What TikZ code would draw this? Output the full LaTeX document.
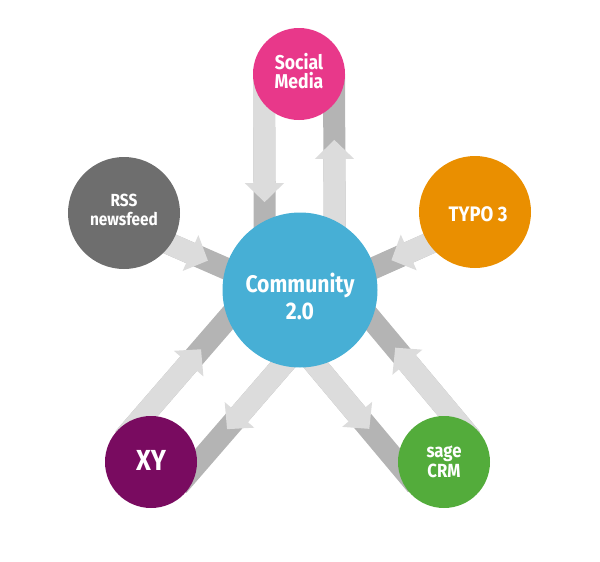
\documentclass[tikz,border=0pt]{standalone}
\usepackage{fontspec}
\setmainfont{Fira Sans}[FakeStretch=0.88]
\usetikzlibrary{arrows.meta,calc,backgrounds}
\definecolor{cpink}{HTML}{E8388A}
\definecolor{cgray}{HTML}{6E6E6E}
\definecolor{corange}{HTML}{EA8F00}
\definecolor{cblue}{HTML}{47AFD5}
\definecolor{cpurple}{HTML}{790B60}
\definecolor{cgreen}{HTML}{53AC3B}
\definecolor{bandlight}{HTML}{DCDCDC}
\definecolor{banddark}{HTML}{B4B4B4}
\tikzset{
  hub/.style={circle, inner sep=0pt, draw=none},
  txt/.style={text=white, align=center, inner sep=0pt},
  darkband/.style={draw=banddark, line width=22pt},
  lightband/.style={draw=bandlight, line width=22pt, -{Triangle[width=38pt,length=19pt]}}
}
% #1 source, #2 target, #3 side angle, #4 offset, #5 arrow length
\newcommand{\flowband}[5]{%
  \coordinate (#1#2s) at ($(#1.center)!#4!#3:(#2.center)$);
  \coordinate (#1#2e) at ($(#2.center)!#4!-#3:(#1.center)$);
  \draw[darkband] (#1#2s) -- (#1#2e);
  \draw[lightband] (#1#2s) -- ($(#1#2s)!#5!(#1#2e)$);
}
\begin{document}
\begin{tikzpicture}[x=1pt,y=-1pt]
\useasboundingbox (0,0) rectangle (600,562);
% circles
\node[hub, fill=cblue,   minimum size=155pt] (com)  at (300,290) {};
\node[hub, fill=cpink,   minimum size=92pt]  (soc)  at (299,74)  {};
\node[hub, fill=cgray,   minimum size=112pt] (rss)  at (124,213) {};
\node[hub, fill=corange, minimum size=112pt] (typo) at (475,212) {};
\node[hub, fill=cpurple, minimum size=92pt]  (xy)   at (151,462) {};
\node[hub, fill=cgreen,  minimum size=92pt]  (sage) at (444,462) {};
% texts
\node[txt, font=\bfseries\fontsize{24}{27}\selectfont] (comt) at ($(com.center)+(0,6)$) {Community\\2.0};
\node[txt, font=\bfseries\fontsize{20}{18.7}\selectfont] (soct) at ($(soc.center)+(0,-2.8)$) {Social\\Media};
\node[txt, font=\bfseries\fontsize{17.5}{19}\selectfont] (rsst) at ($(rss.center)+(0,-3.5)$) {RSS\\newsfeed};
\node[txt, font=\bfseries\fontsize{21}{25}\selectfont] (typot) at ($(typo.center)+(3,1.8)$) {TYPO 3};
\node[txt, font=\bfseries\fontsize{29}{30}\selectfont] (xyt) at ($(xy.center)+(0,-2)$) {XY};
\node[txt, font=\bfseries\fontsize{19}{20}\selectfont] (saget) at ($(sage.center)+(0,0)$) {sage\\CRM};
% connectors
\begin{pgfonlayer}{background}
\flowband{soc}{com}{-90}{35pt}{128pt}
\flowband{com}{soc}{-90}{35pt}{150pt}
\flowband{xy}{com}{90}{36pt}{118pt}
\flowband{com}{xy}{90}{36pt}{153pt}
\flowband{sage}{com}{-90}{36pt}{119pt}
\flowband{com}{sage}{-90}{36pt}{151pt}
\flowband{rss}{com}{-90}{10pt}{96pt}
\flowband{typo}{com}{90}{10pt}{96pt}
\end{pgfonlayer}
\end{tikzpicture}
\end{document}
